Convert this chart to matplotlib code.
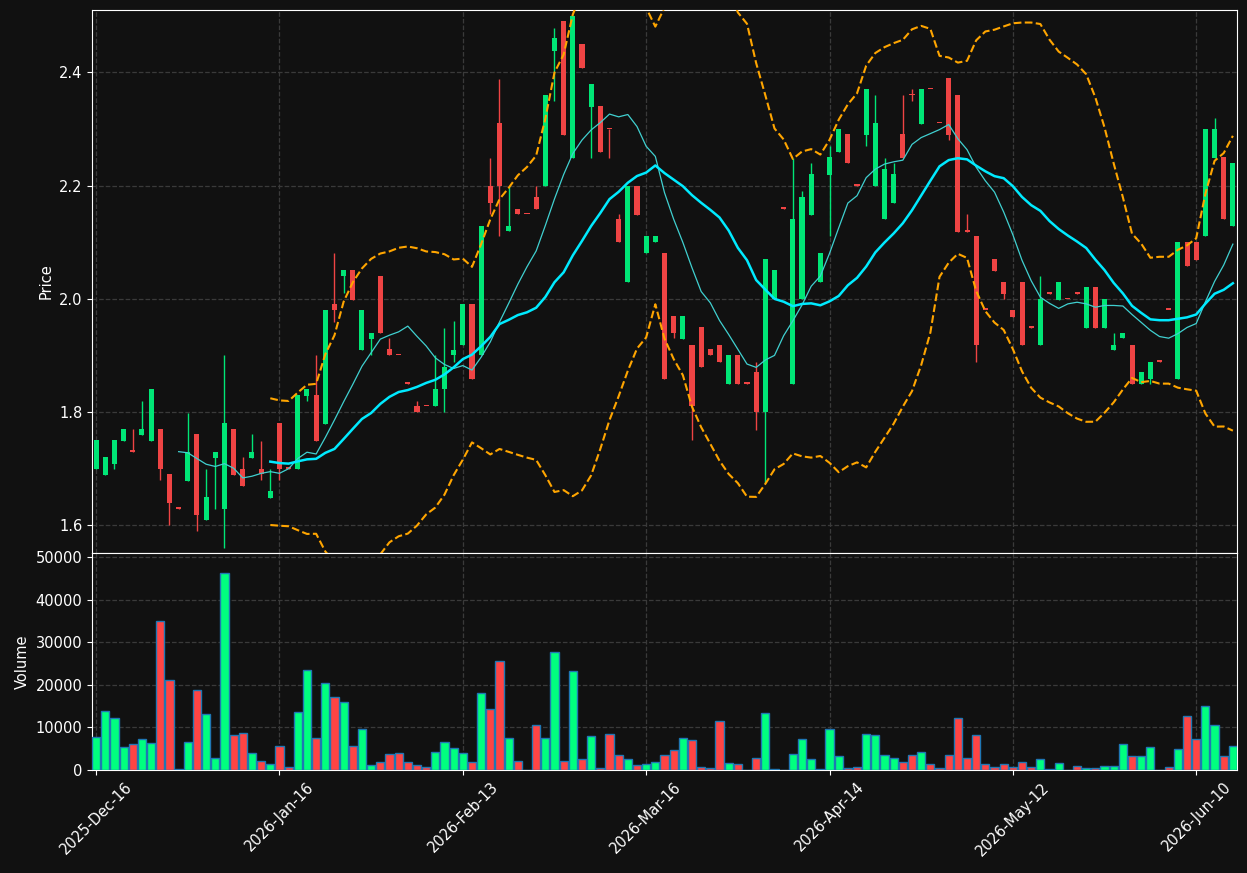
"""
Candlestick chart with Bollinger bands and volume
"""
import numpy as np
import pandas as pd
import matplotlib
matplotlib.use("Agg")
import matplotlib.pyplot as plt

# tick labels (every 20 sessions)
tick_pos = [0, 20, 40, 60, 80, 100, 120]
tick_labels = ["2025-Dec-16", "2026-Jan-16", "2026-Feb-13", "2026-Mar-16",
               "2026-Apr-14", "2026-May-12", "2026-Jun-10"]

opens = [
    1.700, 1.689, 1.709, 1.749, 1.731, 1.760, 1.749, 1.770, 1.690, 1.630,
    1.679, 1.761, 1.610, 1.718, 1.629, 1.770, 1.700, 1.719, 1.700, 1.649,
    1.780, 1.701, 1.700, 1.828, 1.830, 1.779, 1.990, 2.040, 2.051, 1.910,
    1.929, 2.040, 1.911, 1.901, 1.851, 1.810, 1.811, 1.810, 1.841, 1.900,
    1.919, 1.990, 1.900, 2.200, 2.310, 2.119, 2.159, 2.150, 2.180, 2.200,
    2.438, 2.490, 2.249, 2.450, 2.339, 2.340, 2.300, 2.141, 2.029, 2.200,
    2.080, 2.100, 2.080, 1.970, 1.929, 1.919, 1.950, 1.911, 1.919, 1.850,
    1.900, 1.851, 1.871, 1.800, 2.000, 2.160, 1.850, 2.000, 2.148, 2.029,
    2.219, 2.259, 2.291, 2.201, 2.290, 2.200, 2.140, 2.170, 2.291, 2.360,
    2.309, 2.371, 2.311, 2.390, 2.360, 2.119, 2.111, 1.981, 2.070, 2.029,
    1.980, 2.029, 1.950, 1.919, 2.010, 1.998, 2.000, 2.010, 1.949, 2.020,
    1.949, 1.910, 1.930, 1.919, 1.850, 1.858, 1.890, 1.981, 1.858, 2.100,
    2.100, 2.110, 2.249, 2.250, 2.129,
]
highs = [
    1.750, 1.720, 1.750, 1.770, 1.770, 1.820, 1.841, 1.770, 1.690, 1.630,
    1.799, 1.761, 1.700, 1.730, 1.900, 1.770, 1.720, 1.761, 1.749, 1.700,
    1.780, 1.701, 1.830, 1.841, 1.900, 1.980, 2.080, 2.051, 2.051, 1.980,
    1.939, 2.040, 1.930, 1.901, 1.851, 1.820, 1.811, 1.900, 1.949, 1.960,
    1.990, 1.990, 2.129, 2.249, 2.388, 2.200, 2.159, 2.150, 2.200, 2.360,
    2.479, 2.490, 2.499, 2.450, 2.379, 2.340, 2.300, 2.149, 2.200, 2.200,
    2.111, 2.111, 2.080, 1.970, 1.970, 1.919, 1.950, 1.911, 1.919, 1.900,
    1.900, 1.851, 1.889, 2.070, 2.051, 2.160, 2.249, 2.191, 2.240, 2.080,
    2.269, 2.300, 2.291, 2.201, 2.370, 2.360, 2.249, 2.240, 2.360, 2.370,
    2.370, 2.371, 2.311, 2.390, 2.360, 2.149, 2.111, 1.981, 2.070, 2.029,
    1.980, 2.029, 1.950, 2.040, 2.010, 2.029, 2.000, 2.010, 2.020, 2.020,
    1.999, 1.939, 1.939, 1.919, 1.870, 1.889, 1.890, 1.981, 2.100, 2.100,
    2.100, 2.300, 2.320, 2.250, 2.240,
]
lows = [
    1.700, 1.689, 1.700, 1.749, 1.730, 1.760, 1.749, 1.680, 1.600, 1.629,
    1.679, 1.589, 1.610, 1.629, 1.559, 1.689, 1.670, 1.719, 1.680, 1.649,
    1.680, 1.700, 1.700, 1.820, 1.749, 1.779, 1.959, 2.010, 1.998, 1.910,
    1.900, 1.939, 1.900, 1.900, 1.850, 1.800, 1.810, 1.810, 1.800, 1.889,
    1.919, 1.859, 1.900, 2.149, 2.110, 2.119, 2.149, 2.149, 2.159, 2.200,
    2.350, 2.290, 2.249, 2.408, 2.249, 2.259, 2.249, 2.100, 2.029, 2.148,
    2.080, 2.100, 1.859, 1.930, 1.929, 1.750, 1.880, 1.900, 1.889, 1.850,
    1.850, 1.850, 1.769, 1.675, 2.000, 2.159, 1.850, 2.000, 2.148, 2.029,
    2.110, 2.259, 2.239, 2.200, 2.269, 2.200, 2.140, 2.170, 2.249, 2.350,
    2.309, 2.370, 2.310, 2.280, 2.118, 2.118, 1.889, 1.980, 2.049, 2.000,
    1.968, 1.919, 1.949, 1.919, 2.009, 1.998, 1.999, 2.009, 1.949, 1.949,
    1.949, 1.910, 1.930, 1.850, 1.850, 1.850, 1.889, 1.980, 1.858, 2.058,
    2.069, 2.110, 2.249, 2.140, 2.129,
]
closes = [
    1.750, 1.720, 1.750, 1.770, 1.730, 1.770, 1.841, 1.700, 1.640, 1.629,
    1.730, 1.618, 1.650, 1.730, 1.780, 1.689, 1.670, 1.730, 1.690, 1.660,
    1.700, 1.700, 1.830, 1.841, 1.749, 1.980, 1.980, 2.051, 1.998, 1.980,
    1.939, 1.939, 1.900, 1.900, 1.850, 1.800, 1.810, 1.841, 1.880, 1.910,
    1.990, 1.859, 2.129, 2.170, 2.200, 2.129, 2.149, 2.149, 2.159, 2.360,
    2.460, 2.290, 2.499, 2.408, 2.379, 2.259, 2.299, 2.100, 2.200, 2.148,
    2.111, 2.111, 1.859, 1.939, 1.970, 1.810, 1.880, 1.900, 1.889, 1.900,
    1.850, 1.850, 1.800, 2.070, 2.051, 2.159, 2.141, 2.180, 2.220, 2.080,
    2.250, 2.300, 2.239, 2.200, 2.370, 2.310, 2.230, 2.220, 2.249, 2.359,
    2.370, 2.370, 2.310, 2.290, 2.118, 2.118, 1.919, 1.980, 2.049, 2.008,
    1.968, 1.919, 1.949, 2.000, 2.009, 2.029, 1.999, 2.009, 2.020, 1.949,
    1.999, 1.919, 1.939, 1.850, 1.870, 1.889, 1.889, 1.980, 2.100, 2.058,
    2.069, 2.300, 2.300, 2.140, 2.240,
]
volumes = [
    7680, 13790, 12150, 5330, 6030, 7370, 6270, 34950, 21080, 150,
    6500, 18730, 13090, 2740, 46240, 8150, 8620, 3920, 2040, 1330,
    5560, 630, 13560, 23430, 7450, 20380, 17080, 15910, 5560, 9560,
    1100, 1800, 3680, 3920, 1800, 1100, 780, 4150, 6500, 5090,
    3920, 1800, 18030, 14260, 25550, 7450, 2040, 100, 10500, 7450,
    27660, 2040, 23200, 2510, 7920, 390, 8390, 3450, 2510, 1100,
    1330, 1800, 3450, 4620, 7450, 6970, 630, 390, 11440, 1570,
    1330, 100, 2740, 13320, 150, 100, 3680, 7210, 2510, 150,
    9560, 3210, 390, 630, 8390, 8150, 3450, 2740, 1800, 3450,
    4150, 1330, 390, 3450, 12150, 2740, 8150, 1330, 630, 1330,
    630, 1800, 630, 2510, 150, 1570, 100, 860, 390, 390,
    860, 860, 6030, 3210, 3210, 5330, 100, 630, 4860, 12620,
    7210, 14970, 10500, 3210, 5560,
]

BG = "#111111"
UP, DOWN = "#00e676", "#ef4444"
VUP, VDOWN = "#00ff7f", "#ff4444"

o = np.array(opens)
h = np.array(highs)
l = np.array(lows)
c = np.array(closes)
v = np.array(volumes)
x = np.arange(len(c))
up = c >= o

close_s = pd.Series(c)
ma10 = close_s.rolling(10).mean()
ma20 = close_s.rolling(20).mean()
sd20 = close_s.rolling(20).std(ddof=0)
upper = ma20 + 2 * sd20
lower = ma20 - 2 * sd20

plt.rcParams["font.size"] = 10.5
fig = plt.figure(figsize=(12.47, 8.73), dpi=100, facecolor=BG)
ax1 = fig.add_axes([92 / 1247, 320 / 873, 1145 / 1247, 543 / 873], facecolor=BG)
ax2 = fig.add_axes([92 / 1247, 103 / 873, 1145 / 1247, 217 / 873], facecolor=BG, sharex=ax1)

# candles
cols = np.where(up, UP, DOWN)
ax1.vlines(x, l, h, colors=cols, linewidth=1, zorder=2)
body = np.maximum(np.abs(c - o), 0.003)
ax1.bar(x, body, bottom=np.minimum(o, c), width=0.55, color=cols, zorder=3)

# indicators
ax1.plot(x, ma10, color="#40d0d0", linewidth=0.9, zorder=4)
ax1.plot(x, ma20, color="#00eaff", linewidth=1.8, zorder=4)
ax1.plot(x, upper, color="orange", linestyle="--", linewidth=1.5, zorder=5)
ax1.plot(x, lower, color="orange", linestyle="--", linewidth=1.5, zorder=5)

# volume
vcols = np.where(up, VUP, VDOWN)
ax2.bar(x, v, width=0.9, color=vcols, edgecolor="#1f77b4", linewidth=1, zorder=3)

ax1.set_xlim(-0.45, len(c) - 0.55)
ax1.set_ylim(1.551, 2.51)
ax1.set_yticks([1.6, 1.8, 2.0, 2.2, 2.4])
ax2.set_ylim(0, 51000)
ax2.set_yticks([0, 10000, 20000, 30000, 40000, 50000])
ax2.set_xticks(tick_pos)
ax2.set_xticklabels(tick_labels, rotation=45)
ax1.tick_params(axis="x", length=0, labelbottom=False)

ax1.set_ylabel("Price", color="white")
ax2.set_ylabel("Volume", color="white")

for ax in (ax1, ax2):
    ax.grid(True, linestyle="--", color="#3a3a3a", linewidth=0.9)
    ax.set_axisbelow(True)
    ax.tick_params(colors="white")
    for s in ax.spines.values():
        s.set_color("white")

fig.savefig("out.png", dpi=100, facecolor=BG)
